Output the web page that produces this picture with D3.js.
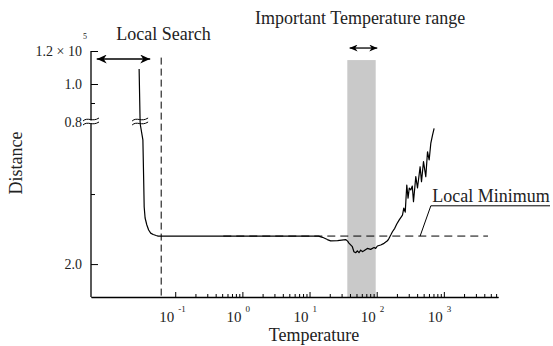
<!DOCTYPE html>
<html>
<head>
<meta charset="utf-8">
<script src="https://cdn.jsdelivr.net/npm/d3@7"></script>
<style>
body { margin: 0; background: #fff; }
text { font-family: "Liberation Serif", "Times New Roman", serif; fill: #222; }
</style>
</head>
<body>
<svg id="chart" width="553" height="346"></svg>
<script>
// values: temperature (x, log) and distance (y, broken axis)
const temps = [0.0290, 0.0300, 0.0301, 0.0330, 0.0339, 0.0345, 0.0356, 0.0378, 0.0402, 0.0431, 0.0470, 0.0520, 0.0557,
  0.2, 1, 5, 13.6, 15.6, 18.4, 20.6, 26.2, 34.5, 36.9, 38.6, 43.4, 45.8, 48.6, 51.5, 54.5, 57.7, 61.2, 64.6, 72.6,
  81.3, 91.2, 96.6, 102.4, 114.7, 128.6, 144.5, 152.7, 161.9, 171.5, 185.6, 199, 215.4, 242, 253, 266, 280.5, 293,
  305.5, 321.5, 338.8, 353, 382, 405, 443, 464.5, 497.5, 538, 571, 604, 640, 678, 716];
const dists = [109100, 80000, 3.0, 2.886, 2.6, 2.407, 2.329, 2.279, 2.243, 2.221, 2.211, 2.204, 2.2,
  2.2, 2.2, 2.2, 2.2, 2.191, 2.175, 2.166, 2.168, 2.175, 2.164, 2.15, 2.124, 2.088, 2.081, 2.095, 2.081, 2.1, 2.089, 2.095, 2.112,
  2.105, 2.119, 2.112, 2.129, 2.136, 2.148, 2.166, 2.184, 2.207, 2.231, 2.255, 2.286, 2.314, 2.35, 2.4, 2.371, 2.564, 2.471,
  2.543, 2.529, 2.557, 2.445, 2.624, 2.543, 2.695, 2.588, 2.731, 2.624, 2.802, 2.743, 2.864, 2.921, 2.969];

const xMajor = [0.1, 1, 10, 100, 1000];
const xExp = ["-1", "0", "1", "2", "3"];
const yMajor = [2.0, 80000, 100000, 120000];
const yLabels = ["2.0", "0.8", "1.0", "1.2 × 10"];
const yMinor = [2.5, 90000];

const localSearchT = 0.0618;        // vertical dashed line
const localSearchArrow = [0.00678, 0.0424];
const bandT = [36.5, 96.6];         // important temperature range
const bandArrow = [39.5, 102];
const localMin = 2.2;
const localMinRange = [0.52, 4540];

var svg = d3.select("#chart");

var x = d3.scaleLog().domain([0.00557, 6400]).range([91, 498]);
// broken axis: lower part linear around 2.0, upper part x10^5
var y = d3.scaleLinear()
  .domain([1.765, 3.0, 80000, 100000, 120000])
  .range([297, 124, 122, 84, 51]);

var defs = svg.append("defs");
function marker(id, len, w) {
  defs.append("marker").attr("id", id)
    .attr("markerUnits", "userSpaceOnUse")
    .attr("viewBox", `0 ${-w} ${len} ${2 * w}`)
    .attr("markerWidth", len).attr("markerHeight", 2 * w)
    .attr("refX", len).attr("refY", 0)
    .attr("orient", "auto-start-reverse")
    .append("path")
    .attr("d", `M0,${-w}L${len},0L0,${w}L${len * 0.3},0Z`)
    .attr("fill", "#000");
}
marker("arrBig", 10, 4.5);
marker("arrSmall", 8, 3.5);

// gray band
svg.append("rect")
  .attr("x", x(bandT[0])).attr("width", x(bandT[1]) - x(bandT[0]))
  .attr("y", y(114500)).attr("height", y(1.765) - y(114500))
  .attr("fill", "#c9c9c9");

// x axis: minor ticks then major
var minor = x.ticks().filter(t => t >= 0.1 && t <= 6000 && xMajor.indexOf(t) < 0);
svg.append("g").attr("transform", "translate(0,297)")
  .call(d3.axisBottom(x).tickValues(minor).tickSize(-3).tickSizeOuter(0).tickFormat(""))
  .call(g => g.selectAll("line,path").attr("stroke", "#000"));
var gx = svg.append("g").attr("transform", "translate(0,297)")
  .call(d3.axisBottom(x).tickValues(xMajor).tickSize(-5).tickSizeOuter(0).tickFormat(""));
gx.select(".domain").attr("stroke", "#000").attr("stroke-width", 1.3);
gx.selectAll("line").attr("stroke", "#000");

xMajor.forEach(function(t, i) {
  svg.append("text").attr("x", x(t) - 1).attr("y", 322)
    .attr("text-anchor", "end").attr("font-size", 15).text("10");
  svg.append("text").attr("x", x(t) + 3).attr("y", 312)
    .attr("font-size", 9).text(xExp[i]);
});

svg.append("text").attr("x", 314).attr("y", 341)
  .attr("text-anchor", "middle").attr("font-size", 18).text("Temperature");

// y axis
var gy = svg.append("g").attr("transform", "translate(91,0)")
  .call(d3.axisLeft(y).tickValues(yMajor).tickSize(-7).tickSizeOuter(0).tickFormat(""));
gy.select(".domain").attr("stroke", "#000").attr("stroke-width", 1.3)
  .attr("d", `M0,${y(1.765)}V${y(120000)}`);
gy.selectAll("line").attr("stroke", "#000");
svg.append("g").attr("transform", "translate(91,0)")
  .call(d3.axisLeft(y).tickValues(yMinor).tickSize(-4).tickFormat(""))
  .call(g => g.select(".domain").remove())
  .call(g => g.selectAll("line").attr("stroke", "#000"));

yMajor.forEach(function(v, i) {
  svg.append("text").attr("x", 82).attr("y", y(v) + 5)
    .attr("text-anchor", "end").attr("font-size", 14).text(yLabels[i]);
});
svg.append("text").attr("x", 83).attr("y", y(120000) - 12)
  .attr("font-size", 8).text("5");

svg.append("text")
  .attr("transform", "translate(21.5,163) rotate(-90)")
  .attr("text-anchor", "middle").attr("font-size", 18).text("Distance");

// dashed guides
svg.append("line")
  .attr("x1", x(localSearchT)).attr("x2", x(localSearchT))
  .attr("y1", y(116000)).attr("y2", y(1.765))
  .attr("stroke", "#000").attr("stroke-dasharray", "7,4");
svg.append("line")
  .attr("x1", x(localMinRange[0])).attr("x2", x(localMinRange[1]))
  .attr("y1", y(localMin)).attr("y2", y(localMin))
  .attr("stroke", "#000").attr("stroke-dasharray", "8,5");

// curve
var pts = temps.map((t, i) => [t, dists[i]]);
svg.append("path").datum(pts)
  .attr("d", d3.line().x(d => x(d[0])).y(d => y(d[1])))
  .attr("fill", "none").attr("stroke", "#000").attr("stroke-width", 1.2)
  .attr("stroke-linejoin", "round");

// break marks on axis and curve
function brk(cx, cy) {
  [-2, 2].forEach(function(o) {
    svg.append("path")
      .attr("d", `M${cx - 8},${cy + o + 1.5}C${cx - 3},${cy + o - 3} ${cx + 1},${cy + o + 3} ${cx + 8},${cy + o - 1.5}`)
      .attr("fill", "none").attr("stroke", "#000").attr("stroke-width", 1);
  });
}
svg.append("rect").attr("x", 85).attr("y", y(80000) - 1.5).attr("width", 14).attr("height", 3).attr("fill", "#fff");
brk(91, y(80000) - 0.5);
brk(x(0.0300), y(80000) - 0.5);

// arrows
svg.append("line")
  .attr("x1", x(localSearchArrow[0])).attr("x2", x(localSearchArrow[1]))
  .attr("y1", y(115150)).attr("y2", y(115150))
  .attr("stroke", "#000").attr("stroke-width", 1.5)
  .attr("marker-start", "url(#arrBig)").attr("marker-end", "url(#arrBig)");
svg.append("line")
  .attr("x1", x(bandArrow[0])).attr("x2", x(bandArrow[1]))
  .attr("y1", y(121800)).attr("y2", y(121800))
  .attr("stroke", "#000").attr("stroke-width", 1.3)
  .attr("marker-start", "url(#arrSmall)").attr("marker-end", "url(#arrSmall)");

svg.append("text").attr("x", 163.5).attr("y", 40)
  .attr("text-anchor", "middle").attr("font-size", 18).text("Local Search");
svg.append("text").attr("x", 255).attr("y", 23.5)
  .attr("font-size", 18).text("Important Temperature range");

// local minimum label with leader
svg.append("path")
  .attr("d", `M${x(443)},${y(localMin)}L${x(640)},${y(2.416)}H550`)
  .attr("fill", "none").attr("stroke", "#000").attr("stroke-width", 1);
svg.append("text").attr("x", x(640) + 1.5).attr("y", y(2.416) - 4)
  .attr("font-size", 18).text("Local Minimum");
</script>
</body>
</html>
